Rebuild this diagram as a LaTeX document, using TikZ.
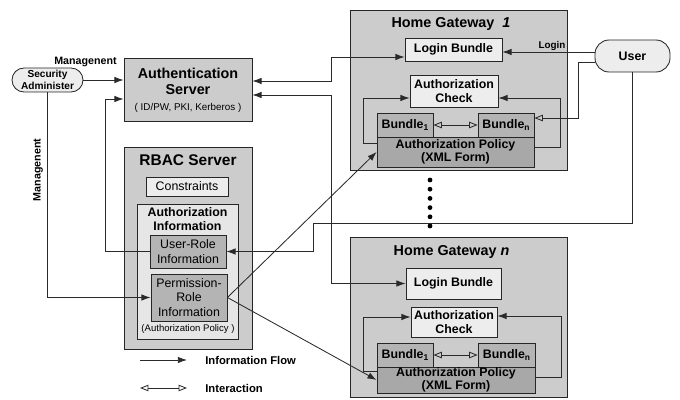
\documentclass[tikz,border=0pt]{standalone}
\usepackage{fontspec}
\setmainfont{Liberation Sans}
\usepackage{tikz}
\usetikzlibrary{calc}
\usetikzlibrary{arrows.meta}
\definecolor{boxgray}{HTML}{CCCCCC}
\definecolor{lightfill}{HTML}{EDEDED}
\definecolor{infofill}{HTML}{E6E6E6}
\definecolor{bundlegray}{HTML}{B4B4B4}
\definecolor{policygray}{HTML}{A8A8A8}
\definecolor{linegray}{HTML}{2A2A2A}
\tikzstyle{every node}=[font=\fontsize{8.8}{10.5}\selectfont\bfseries, align=center, inner sep=0pt]
\tikzstyle{frame}=[draw=black!85, line width=0.6pt]
\tikzstyle{graybox}=[frame, fill=boxgray]
\tikzstyle{lightbox}=[frame, fill=lightfill]
\tikzstyle{infobox}=[frame, fill=infofill]
\tikzstyle{bundlebox}=[frame, fill=bundlegray]
\tikzstyle{policybox}=[frame, fill=policygray, font=\fontsize{8.8}{9.6}\selectfont\bfseries]
\tikzstyle{plain}=[font=\fontsize{8.8}{10.6}\selectfont]
\tikzstyle{title}=[font=\fontsize{10.2}{11.4}\selectfont\bfseries]
\tikzstyle{tag}=[font=\fontsize{7.6}{9}\selectfont\bfseries]
\tikzstyle{wire}=[draw=linegray, line width=0.6pt]
\tikzstyle{flow}=[wire, ->]
\tikzstyle{inter}=[wire, {Triangle[open,length=6pt,width=4.6pt]}-{Triangle[open,length=6pt,width=4.6pt]}]
\tikzset{boxsize/.style 2 args={minimum width=#1*0.025cm, minimum height=#2*0.025cm}}

\begin{document}
\begin{tikzpicture}[x=0.025cm, y=-0.025cm, >={Latex[length=6.5pt,width=4.6pt]}]
    \useasboundingbox (0,0) rectangle (680,400);
    % servers
    \node[graybox, boxsize={128}{63}] (auth) at (188,89.5) {};
    \node[title] (authtitle) at (188,81) {Authentication\\Server};
    \node[font=\fontsize{7}{8}\selectfont] (authsub) at (188,108) {( ID/PW, PKI, Kerberos )};
    \node[graybox, boxsize={128}{202}] (rbac) at (188,248) {};
    \node[title, font=\fontsize{11}{12}\selectfont\bfseries] (rbactitle) at (188,160) {RBAC Server};
    \node[lightbox, plain, boxsize={82}{19}] (cons) at (187,186.5) {Constraints};
    \node[infobox, boxsize={101}{135}] (ainfo) at (187.5,271.5) {};
    \node[font=\fontsize{8.8}{10}\selectfont\bfseries] (ainfotitle) at (187.5,219) {Authorization\\Information};
    \node[bundlebox, plain, boxsize={76}{33}] (ur) at (188,251.5) {User-Role\\Information};
    \node[bundlebox, plain, boxsize={76}{47}] (pr) at (189,297.5) {Permission-\\Role\\Information};
    \node[font=\fontsize{6.8}{8}\selectfont] (aipolicy) at (188,329) {(Authorization Policy )};
    % actors
    \node[lightbox, rounded corners=8.5pt, boxsize={71}{24}, font=\fontsize{7.2}{8.5}\selectfont\bfseries] (sa) at (47.5,80) {Security\\Administer};
    \node[lightbox, rounded corners=10pt, boxsize={75}{32}] (user) at (632.5,56) {User};
    % home gateway 1
    \node[graybox, boxsize={217}{160}] (gw1) at (458.5,90) {};
    \node[title] (gw1title) at (451,24) {Home Gateway\ \ \textit{1}};
    \node[lightbox, boxsize={97}{23}] (lb1) at (453.5,49.5) {Login Bundle};
    \node[lightbox, boxsize={88}{32}] (ac1) at (454,91) {Authorization\\Check};
    \node[bundlebox, boxsize={56}{24}] (b1a) at (405,125) {Bundle{\fontsize{6}{6}\selectfont\raisebox{-1.5pt}{1}}};
    \node[bundlebox, boxsize={56}{24}] (bna) at (506,125) {Bundle{\fontsize{6}{6}\selectfont\raisebox{-1.5pt}{n}}};
    \node[policybox, boxsize={157}{30}] (ap1) at (455.5,152) {Authorization Policy\\(XML Form)};
    % home gateway n
    \node[graybox, boxsize={217}{160}] (gwn) at (458.5,317) {};
    \node[title] (gwntitle) at (451.5,252) {Home Gateway \textit{n}};
    \node[lightbox, boxsize={95}{31}] (lbn) at (453.5,283.5) {Login Bundle};
    \node[lightbox, boxsize={86}{30}] (acn) at (454,322) {Authorization\\Check};
    \node[bundlebox, boxsize={56}{24}] (b1n) at (405,355) {Bundle{\fontsize{6}{6}\selectfont\raisebox{-1.5pt}{1}}};
    \node[bundlebox, boxsize={57}{24}] (bnn) at (506.5,355) {Bundle{\fontsize{6}{6}\selectfont\raisebox{-1.5pt}{n}}};
    \node[policybox, boxsize={158}{26}] (apn) at (456,380) {Authorization Policy\\(XML Form)};
    % dots between gateways
    \foreach \y in {180,189.2,198.4,207.6,216.8,226}
        \fill[black] (430,\y) circle (1.7pt);
    % bends
    \coordinate (mA) at (331,81);
    \coordinate (mB) at (331,57);
    \coordinate (mC) at (331,95);
    \coordinate (lA) at (105,99);
    \coordinate (uL) at ($(user.west)+(0,-4)$);
    \coordinate (uA) at (578,62);
    \coordinate (uB) at (578,118);
    \coordinate (uC) at (313,223);
    \coordinate (gA) at (363,143);
    \coordinate (gB) at (363,98);
    \coordinate (gC) at (560,147);
    \coordinate (gD) at (560,98);
    \coordinate (hA) at (363,371);
    \coordinate (hB) at (363,317);
    \coordinate (hC) at (561,377);
    \coordinate (hD) at (561,316);
    % management
    \draw[flow] (sa.east) -- (sa.east -| auth.west);
    \node[tag] (mgmt) at (85.5,62) {Managenent};
    \draw[flow] (sa.south) |- (pr.west);
    \node[tag, rotate=90] (mgmtv) at (38,170) {Managenent};
    % authentication
    \draw[flow] (ur.west) -| (lA) -- (lA -| auth.west);
    \draw[flow, <->] (mA -| auth.east) -- (mA) -- (mB) -- (mB -| lb1.west);
    \draw[flow, <->] (mC -| auth.east) -- (mC) |- (lbn.west);
    % user
    \draw[flow] (uL) -- (uL -| lb1.east);
    \node[font=\fontsize{7}{8}\selectfont\bfseries] (login) at (552,46) {Login};
    \draw[wire, -{Triangle[open,length=6pt,width=4.6pt]}] (uA -| user.west) -- (uA) -- (uB) -- (uB -| bna.east);
    \draw[flow] (user.south) |- (uC) |- (ur.east);
    % policy distribution
    \draw[flow] (pr.east) -- (ap1.west);
    \draw[flow] (pr.east) -- (apn.west);
    % gateway loops
    \draw[flow] (gA -| ap1.west) -- (gA) -- (gB) -- (gB -| ac1.west);
    \draw[flow] (gC -| ap1.east) -- (gC) -- (gD) -- (gD -| ac1.east);
    \draw[inter] (b1a) -- (bna);
    \draw[flow] (hA -| apn.west) -- (hA) -- (hB) -- (hB -| acn.west);
    \draw[flow] (hC -| apn.east) -- (hC) -- (hD) -- (hD -| acn.east);
    \draw[inter] (b1n) -- (bnn);
    % legend
    \coordinate (fA) at (140,360);
    \coordinate (fB) at (187,360);
    \coordinate (iA) at (140,388);
    \coordinate (iB) at (187,388);
    \draw[flow] (fA) -- (fB);
    \node[anchor=west, font=\fontsize{8}{9}\selectfont\bfseries] (flowtext) at (205,360) {Information Flow};
    \draw[inter] (iA) -- (iB);
    \node[anchor=west, font=\fontsize{8}{9}\selectfont\bfseries] (intertext) at (205,388) {Interaction};
\end{tikzpicture}
\end{document}
